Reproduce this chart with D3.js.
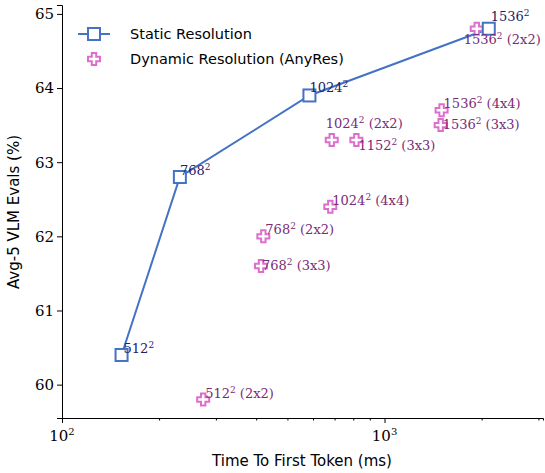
<!DOCTYPE html>
<html><head><meta charset="utf-8">
<script src="https://cdn.jsdelivr.net/npm/d3@7"></script>
<style>body{margin:0;background:#fff}</style></head>
<body><svg id="c" width="545" height="473"></svg>
<script>
const staticTTFT=[153,232,585,2105];
const staticScore=[60.4,62.8,63.9,64.8];
const staticLabels=["512","768","1024","1536"];
const dynTTFT=[274,421,414,679,686,818,1503,1493,1932];
const dynScore=[59.8,62.0,61.6,62.4,63.3,63.3,63.7,63.5,64.8];
const dynRes=["512","768","768","1024","1024","1152","1536","1536","1536"];
const dynGrid=["2x2","2x2","3x3","4x4","2x2","3x3","4x4","3x3","2x2"];
const yTicks=[60,61,62,63,64,65];
const xTicks=[100,1000];
const xTickLabels=["2","3"];

const svg=d3.select("#c");
const x=d3.scaleLog().domain([100,3100]).range([62,543]);
const y=d3.scaleLinear().domain([59.55,65.12]).range([418,5]);
const serif="'DejaVu Serif',serif", sans="'DejaVu Sans',sans-serif";
const blue="#4472c4", pink="#dd6fcc", purple="#7a2a78", navy="#222266";

const xa=svg.append("g").attr("transform","translate(0,418)")
  .call(d3.axisBottom(x).tickValues(d3.range(2,10).map(d=>d*100).concat(d3.range(2,4).map(d=>d*1000))).tickSize(2.5).tickFormat(""));
const xb=svg.append("g").attr("transform","translate(0,418)")
  .call(d3.axisBottom(x).tickValues(xTicks).tickSize(5).tickFormat(""));
xTicks.forEach((t,i)=>{
  const tx=svg.append("text").attr("x",x(t)).attr("y",441).attr("text-anchor","middle")
   .attr("font-family",serif).attr("font-size",15).attr("fill","#000");
  tx.append("tspan").text("10");
  tx.append("tspan").attr("dy",-6).attr("font-size",10).text(xTickLabels[i]);
});
const ya=svg.append("g").attr("transform","translate(62,0)")
  .call(d3.axisLeft(y).tickValues(yTicks).tickSize(5).tickFormat(d3.format("d")));
ya.selectAll("text").attr("font-family",serif).attr("font-size",15).attr("fill","#000");
[xa,xb,ya].forEach(g=>{g.select(".domain").attr("stroke","#000");g.selectAll("line").attr("stroke","#000");});
xb.select(".domain").remove();

svg.append("text").attr("x",302).attr("y",466).attr("text-anchor","middle")
  .attr("font-family",sans).attr("font-size",15).text("Time To First Token (ms)");
svg.append("text").attr("transform","translate(19,212) rotate(-90)").attr("text-anchor","middle")
  .attr("font-family",sans).attr("font-size",15).text("Avg-5 VLM Evals (%)");

svg.append("path").datum(staticTTFT.map((t,i)=>[t,staticScore[i]]))
  .attr("d",d3.line().x(d=>x(d[0])).y(d=>y(d[1]))).attr("fill","none").attr("stroke",blue).attr("stroke-width",2);
const plusPath="M-2.2,-6H2.2V-2.2H6V2.2H2.2V6H-2.2V2.2H-6V-2.2H-2.2Z";
dynTTFT.forEach((t,i)=>{
  svg.append("path").attr("d",plusPath).attr("transform",`translate(${x(t)},${y(dynScore[i])})`)
   .attr("fill","#fff").attr("stroke",pink).attr("stroke-width",2);
});
staticTTFT.forEach((t,i)=>{
  svg.append("rect").attr("x",x(t)-6).attr("y",y(staticScore[i])-6).attr("width",12).attr("height",12)
   .attr("fill","#fff").attr("stroke",blue).attr("stroke-width",2);
});
function lab(px,py,res,suffix,color,anchor){
  const t=svg.append("text").attr("x",px).attr("y",py).attr("font-family",serif).attr("font-size",13)
   .attr("fill",color).attr("text-anchor",anchor||"start");
  t.append("tspan").text(res);
  t.append("tspan").attr("dy",-5).attr("font-size",9).text("2");
  if(suffix) t.append("tspan").attr("dy",5).text(" ("+suffix+")");
}
const sOff=[[2,-2],[0,-2],[0,-3],[2,-8]];
staticTTFT.forEach((t,i)=>lab(x(t)+sOff[i][0],y(staticScore[i])+sOff[i][1],staticLabels[i],null,navy));
const dOff=[[2,-1],[2,-2],[1,4],[2,-2],[-6,-12],[2,10],[2,-2],[2,4],[-13,15]];
dynTTFT.forEach((t,i)=>lab(x(t)+dOff[i][0],y(dynScore[i])+dOff[i][1],dynRes[i],dynGrid[i],purple));

svg.append("line").attr("x1",78).attr("x2",110).attr("y1",34).attr("y2",34).attr("stroke",blue).attr("stroke-width",2);
svg.append("rect").attr("x",88).attr("y",28).attr("width",12).attr("height",12).attr("fill","#fff").attr("stroke",blue).attr("stroke-width",2);
svg.append("path").attr("d",plusPath).attr("transform","translate(94,59)").attr("fill","#fff").attr("stroke",pink).attr("stroke-width",2);
svg.append("text").attr("x",130).attr("y",39).attr("font-family",sans).attr("font-size",14.5).text("Static Resolution");
svg.append("text").attr("x",130).attr("y",64).attr("font-family",sans).attr("font-size",14.5).text("Dynamic Resolution (AnyRes)");
</script></body></html>
